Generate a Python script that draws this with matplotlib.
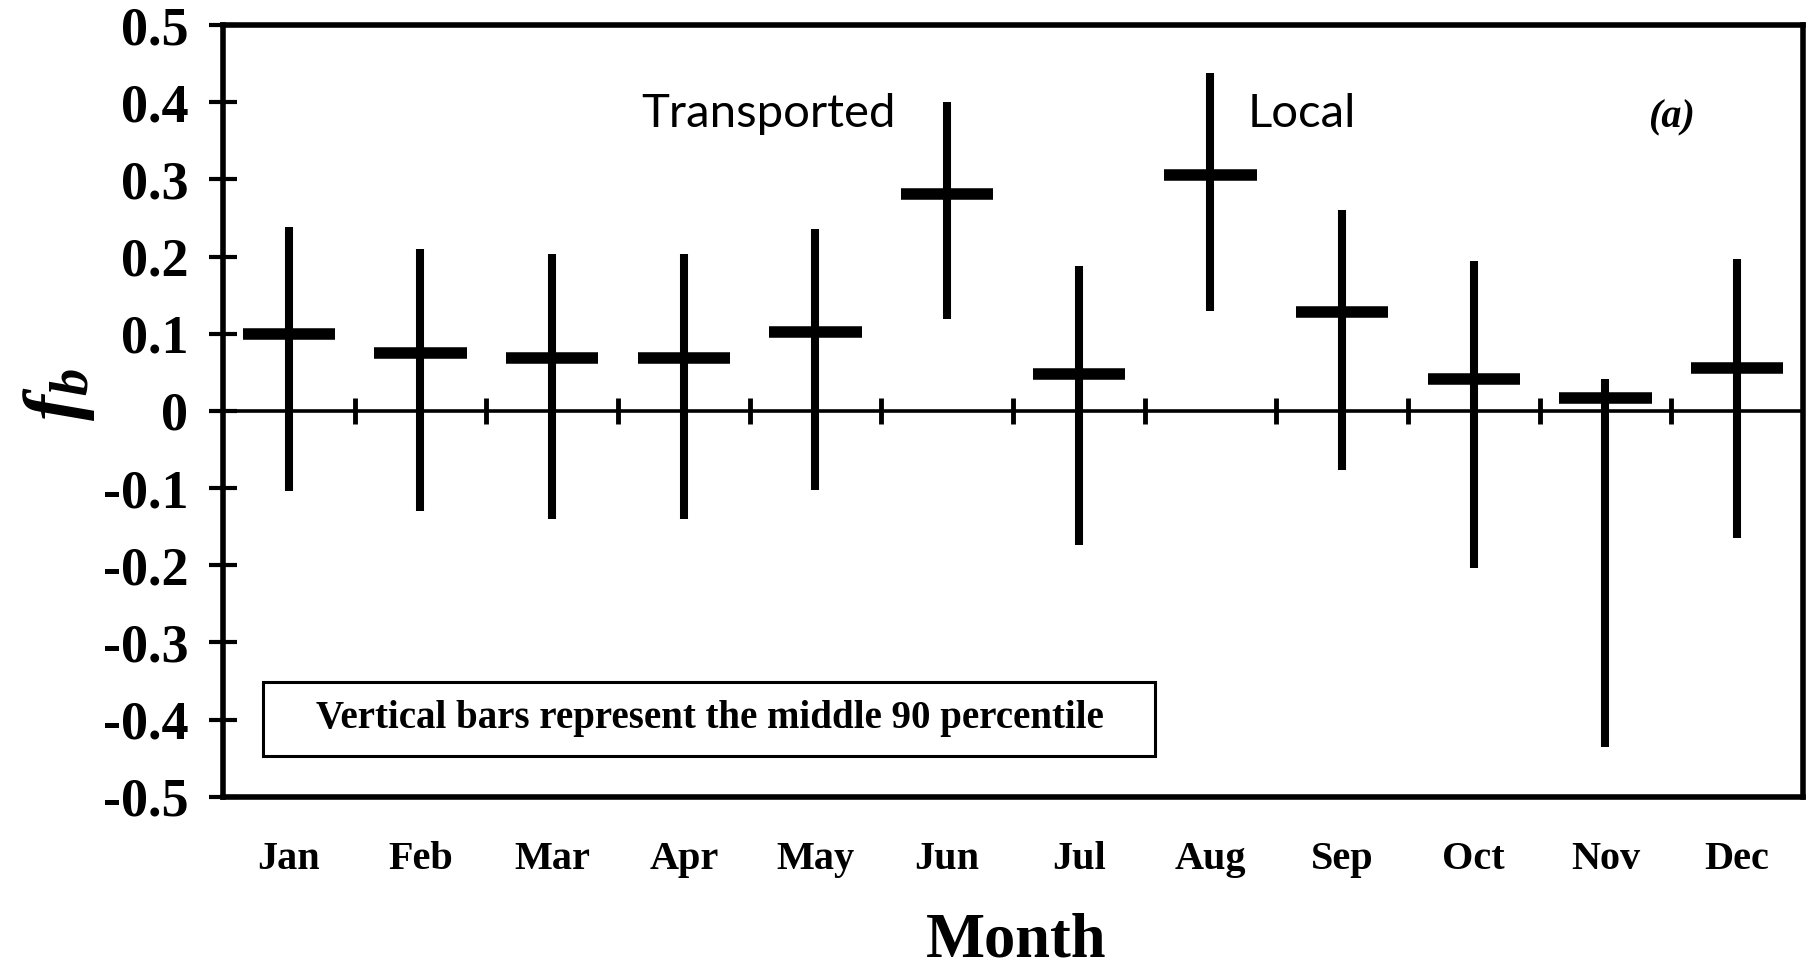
import numpy as np
import matplotlib
matplotlib.use('Agg')
import matplotlib.pyplot as plt
from matplotlib.patches import Rectangle

months = ['Jan', 'Feb', 'Mar', 'Apr', 'May', 'Jun', 'Jul', 'Aug', 'Sep', 'Oct', 'Nov', 'Dec']
median = [0.100, 0.075, 0.069, 0.069, 0.102, 0.281, 0.048, 0.306, 0.128, 0.041, 0.017, 0.056]
p95 = [0.239, 0.210, 0.204, 0.204, 0.236, 0.400, 0.188, 0.438, 0.261, 0.195, 0.041, 0.197]
p05 = [-0.104, -0.130, -0.140, -0.140, -0.102, 0.119, -0.174, 0.129, -0.077, -0.204, -0.435, -0.164]
yticks = [0.5, 0.4, 0.3, 0.2, 0.1, 0, -0.1, -0.2, -0.3, -0.4, -0.5]

plt.rcParams['axes.unicode_minus'] = False
plt.rcParams['mathtext.fontset'] = 'custom'
plt.rcParams['mathtext.it'] = 'Liberation Serif:italic:bold'
plt.rcParams['mathtext.rm'] = 'Liberation Serif:bold'

serif = 'Liberation Serif'

fig = plt.figure(figsize=(18.16, 9.67), dpi=100)
ax = fig.add_axes([0.1228, 0.176, 0.87, 0.798])

x = np.arange(1, len(months) + 1)

# vertical bars = middle 90 percentile, thick horizontal dash = median
ax.vlines(x, p05, p95, color='black', lw=5.8)
ax.hlines(median, x - 0.35, x + 0.35, color='black', lw=8.3)

# zero line with small ticks at the month boundaries
ax.axhline(0, color='black', lw=2.6)
bounds = np.arange(1.5, len(months), 1.0)
ax.vlines(bounds, -0.017, 0.017, color='black', lw=3.5)

ax.set_xlim(0.5, len(months) + 0.5)
ax.set_ylim(-0.5, 0.5)
ax.set_xticks(x)
ax.set_xticklabels(months, fontfamily=serif, fontweight='bold', fontsize=29)
ax.set_yticks(yticks)
ax.set_yticklabels(['%g' % v for v in yticks], fontfamily=serif, fontweight='bold', fontsize=39)
ax.tick_params(axis='x', length=0, pad=32)
ax.tick_params(axis='y', direction='inout', length=20, width=3, pad=15)

for s in ax.spines.values():
    s.set_linewidth(4)

ax.set_xlabel('Month', fontfamily=serif, fontweight='bold', fontsize=45)
ax.xaxis.set_label_coords(0.502, -0.15)
ax.set_ylabel(r'$f_b$', fontsize=56, rotation=90)
ax.yaxis.set_label_coords(-0.08, 0.522)

ax.text(3.675, 0.385, 'Transported', fontfamily='Lato', fontsize=34, va='center', ha='left')
ax.text(8.28, 0.385, 'Local', fontfamily='Lato', fontsize=34, va='center', ha='left')
ax.text(11.5, 0.38, '(a)', fontfamily=serif, fontweight='bold', fontstyle='italic',
        fontsize=29, va='center', ha='center')

ax.add_patch(Rectangle((0.807, -0.447), 6.77, 0.096, fill=False, lw=2.2, ec='black'))
ax.text(4.2, -0.399, 'Vertical bars represent the middle 90 percentile', fontfamily=serif,
        fontweight='bold', fontsize=28, va='center', ha='center')

fig.savefig('out.png', dpi=100)
